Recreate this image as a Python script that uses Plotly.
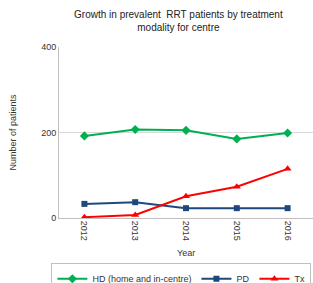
import plotly.graph_objects as go

years = ["2012", "2013", "2014", "2015", "2016"]
hd = [192, 207, 205, 185, 199]
pd_vals = [33, 37, 23, 23, 23]
tx = [2, 7, 51, 73, 115]

font = "Liberation Sans, Arial, sans-serif"

fig = go.Figure()
fig.add_trace(go.Scatter(x=years, y=hd, name="HD (home and in-centre)", mode="lines+markers",
                         line=dict(color="#00B050", width=2),
                         marker=dict(symbol="diamond", size=7, color="#00B050")))
fig.add_trace(go.Scatter(x=years, y=pd_vals, name="PD", mode="lines+markers",
                         line=dict(color="#1F497D", width=2),
                         marker=dict(symbol="square", size=6, color="#1F497D")))
fig.add_trace(go.Scatter(x=years, y=tx, name="Tx", mode="lines+markers",
                         line=dict(color="#FF0000", width=2),
                         marker=dict(symbol="triangle-up", size=7, color="#FF0000")))

fig.update_layout(
    width=313, height=283,
    margin=dict(l=59, r=0, t=47, b=65, autoexpand=False),
    paper_bgcolor="white", plot_bgcolor="white",
    font=dict(family=font, size=9, color="#333333"),
    title=dict(text="Growth in prevalent  RRT patients by treatment<br>modality for centre",
               x=0.57, xanchor="center", y=0.935, yanchor="top",
               font=dict(size=10, color="#222222")),
    xaxis=dict(type="category", range=[-0.5, 4.5], tickangle=90, showgrid=False, showline=True,
               linecolor="#BFBFBF", linewidth=1, ticks="", automargin=False,
               tickfont=dict(size=9)),
    yaxis=dict(range=[0, 400], tickvals=[0, 200, 400], showgrid=True,
               gridcolor="#D9D9D9", gridwidth=1, showline=True, linecolor="#BFBFBF",
               zeroline=False, ticks="", tickfont=dict(size=9), automargin=False),
    legend=dict(orientation="h", x=-0.03, xanchor="left", y=-0.265, yanchor="top",
                bordercolor="#BFBFBF", borderwidth=1, font=dict(size=9),
                tracegroupgap=0),
    annotations=[
        dict(text="Number of patients", xref="paper", yref="paper", x=-0.185, y=0.5,
             textangle=-90, showarrow=False, xanchor="center", yanchor="middle",
             font=dict(size=9, color="#333333")),
        dict(text="Year", xref="paper", yref="paper", x=0.5, y=-0.205,
             showarrow=False, xanchor="center", yanchor="middle",
             font=dict(size=9, color="#333333")),
    ],
    showlegend=True,
)

fig.write_html("out.html", config={"displayModeBar": False},
               post_script="document.body.style.margin='0';document.body.style.overflow='hidden';")
